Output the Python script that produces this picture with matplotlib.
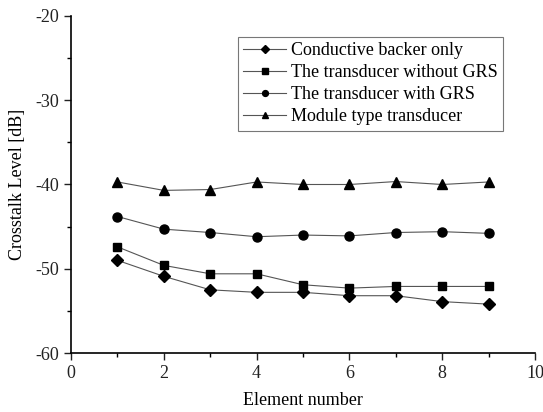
import matplotlib.pyplot as plt
from matplotlib.ticker import MultipleLocator

# Datos
elementos = [1, 2, 3, 4, 5, 6, 7, 8, 9]
backer = [-49.0, -50.9, -52.5, -52.8, -52.8, -53.2, -53.2, -53.9, -54.2]
sin_grs = [-47.4, -49.6, -50.6, -50.6, -51.9, -52.3, -52.1, -52.1, -52.1]
con_grs = [-43.8, -45.3, -45.7, -46.2, -46.0, -46.1, -45.7, -45.6, -45.8]
modulo = [-39.7, -40.7, -40.6, -39.7, -40.0, -40.0, -39.65, -40.0, -39.7]

series = [
    (backer, 'D', 'Conductive backer only', 6),
    (sin_grs, 's', 'The transducer without GRS', 6),
    (con_grs, 'o', 'The transducer with GRS', 6.5),
    (modulo, '^', 'Module type transducer', 7),
]

plt.rcParams['font.family'] = 'Liberation Serif'
plt.rcParams['axes.unicode_minus'] = False

fig = plt.figure(figsize=(5.43, 4.12), dpi=100)
ax = fig.add_axes([0.1308, 0.1432, 0.8545, 0.818])

for valores, marcador, etiqueta, tam in series:
    ax.plot(elementos, valores, color='#555555', linewidth=0.8,
            marker=marcador, markersize=tam, markerfacecolor='black',
            markeredgecolor='black', label=etiqueta)

ax.set_xlim(0, 10)
ax.set_ylim(-60, -20)
ax.xaxis.set_major_locator(MultipleLocator(2))
ax.xaxis.set_minor_locator(MultipleLocator(1))
ax.yaxis.set_major_locator(MultipleLocator(10))
ax.yaxis.set_minor_locator(MultipleLocator(5))
ax.tick_params(which='major', direction='out', length=5, width=1, labelsize=13, colors='#222222')
ax.tick_params(which='minor', direction='out', length=3, width=1)

for lado in ['top', 'right']:
    ax.spines[lado].set_visible(False)
for lado in ['left', 'bottom']:
    ax.spines[lado].set_linewidth(1.2)

ax.set_xlabel('Element number', fontsize=13, labelpad=7)
ax.set_ylabel('Crosstalk Level [dB]', fontsize=13, labelpad=7)

leg = ax.legend(loc='upper right', bbox_to_anchor=(0.931, 0.938), fontsize=13,
                frameon=True, fancybox=False, handlelength=2.4, markerscale=0.65,
                borderpad=0.3, labelspacing=0.28, handletextpad=0.25, borderaxespad=0)
leg.get_frame().set_edgecolor('#555555')
leg.get_frame().set_linewidth(0.8)

plt.savefig('out.png', dpi=100)
